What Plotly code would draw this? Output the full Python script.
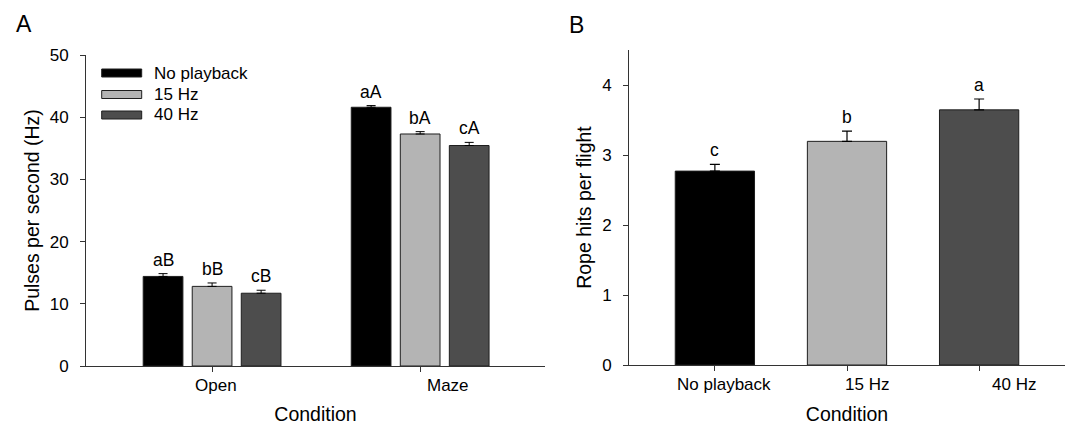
import plotly.graph_objects as go

# ---------------- data ----------------
conditions_a = ["Open", "Maze"]
series_names = ["No playback", "15 Hz", "40 Hz"]
pulses_mean = {
    "No playback": [14.4, 41.6],
    "15 Hz": [12.8, 37.3],
    "40 Hz": [11.7, 35.45],
}
pulses_err = {
    "No playback": [0.45, 0.27],
    "15 Hz": [0.55, 0.38],
    "40 Hz": [0.48, 0.5],
}
pulses_letters = {
    "No playback": ["aB", "aA"],
    "15 Hz": ["bB", "bA"],
    "40 Hz": ["cB", "cA"],
}

conditions_b = ["No playback", "15 Hz", "40 Hz"]
rope_mean = [2.77, 3.195, 3.645]
rope_err = [0.095, 0.145, 0.155]
rope_letters = ["c", "b", "a"]

y_ticks_a = [0, 10, 20, 30, 40, 50]
y_ticks_b = [0, 1, 2, 3, 4]

# ---------------- style ----------------
W, H = 1070, 425
FONT = "Liberation Sans, Arial, sans-serif"
colors = {"No playback": "#000000", "15 Hz": "#b4b4b4", "40 Hz": "#4d4d4d"}
outline = "#1e1e1e"
axis_col = "#333333"
BARGAP = 0.293
BARGROUPGAP = 0.19


def px_x(p):
    return p / W


def px_y(p):
    return 1 - p / H


fig = go.Figure()

# ---------- panel A ----------
xa = list(range(len(conditions_a)))
for name in series_names:
    fig.add_trace(go.Bar(
        x=xa, y=pulses_mean[name], name=name,
        marker=dict(color=colors[name], line=dict(color=outline, width=1)),
        error_y=dict(type="data", symmetric=False, array=pulses_err[name],
                     arrayminus=[0] * len(xa), color="#000000", thickness=1, width=4.5),
        xaxis="x", yaxis="y", showlegend=False,
    ))

slot = (1 - BARGAP) / len(series_names)
annotations = []
for j, name in enumerate(series_names):
    for i in xa:
        annotations.append(dict(
            x=i + (j - (len(series_names) - 1) / 2) * slot,
            y=pulses_mean[name][i] + pulses_err[name][i],
            xref="x", yref="y", text=pulses_letters[name][i], showarrow=False,
            yanchor="bottom", yshift=2, font=dict(size=17.5, color="#000", family=FONT)))

# category labels A (slightly offset as in original)
shifts_a = [4, 28]
for i, lab in enumerate(conditions_a):
    annotations.append(dict(x=i, y=px_y(366), xref="x", yref="paper", text=lab,
                            showarrow=False, yanchor="top", yshift=-8, xshift=shifts_a[i],
                            font=dict(size=17, color="#000", family=FONT)))

# ---------- panel B ----------
xb = list(range(len(conditions_b)))
fig.add_trace(go.Bar(
    x=xb, y=rope_mean, width=0.6,
    marker=dict(color=[colors[c] for c in conditions_b], line=dict(color=outline, width=1)),
    error_y=dict(type="data", symmetric=False, array=rope_err,
                 arrayminus=[0] * len(xb), color="#000000", thickness=1.2, width=5),
    xaxis="x2", yaxis="y2", showlegend=False,
))
for i in xb:
    annotations.append(dict(x=i, y=rope_mean[i] + rope_err[i], xref="x2", yref="y2",
                            text=rope_letters[i], showarrow=False, yanchor="bottom", yshift=2,
                            font=dict(size=17.5, color="#000", family=FONT)))
shifts_b = [9, 20, 35]
for i, lab in enumerate(conditions_b):
    annotations.append(dict(x=i, y=px_y(365), xref="x2", yref="paper", text=lab,
                            showarrow=False, yanchor="top", yshift=-8, xshift=shifts_b[i],
                            font=dict(size=17, color="#000", family=FONT)))

# ---------- manual legend (panel A) ----------
shapes = []
leg_rows = [73, 94.5, 115]
for name, yc in zip(series_names, leg_rows):
    shapes.append(dict(type="rect", xref="paper", yref="paper",
                       x0=px_x(101.7), x1=px_x(141.7), y0=px_y(yc + 4), y1=px_y(yc - 4),
                       fillcolor=colors[name], line=dict(color=outline, width=1)))
    annotations.append(dict(x=px_x(151.5), y=px_y(yc), xref="paper", yref="paper",
                            text=name, showarrow=False, xanchor="left", yanchor="middle",
                            font=dict(size=17, color="#000", family=FONT)))

# panel letters
annotations.append(dict(x=px_x(24), y=px_y(24), xref="paper", yref="paper", text="A",
                        showarrow=False, xanchor="center", yanchor="middle",
                        font=dict(size=23, color="#000", family=FONT)))
annotations.append(dict(x=px_x(576), y=px_y(25), xref="paper", yref="paper", text="B",
                        showarrow=False, xanchor="center", yanchor="middle",
                        font=dict(size=23, color="#000", family=FONT)))

axis_common = dict(showline=True, linecolor=axis_col, linewidth=1, ticks="outside",
                   ticklen=5, tickcolor=axis_col, showgrid=False, zeroline=False,
                   automargin=False,
                   tickfont=dict(size=17, color="#000", family=FONT))

fig.update_layout(
    width=W, height=H, margin=dict(l=0, r=0, t=0, b=0, pad=0),
    paper_bgcolor="white", plot_bgcolor="white",
    barmode="group", bargap=BARGAP, bargroupgap=BARGROUPGAP,
    font=dict(family=FONT, color="#000"),
    xaxis=dict(domain=[px_x(86), px_x(545)], range=[-0.606, 1.60], tickvals=xa,
               showticklabels=False, anchor="y",
               title=dict(text="Condition", font=dict(size=19.5, family=FONT), standoff=37),
               **axis_common),
    yaxis=dict(domain=[px_y(366), px_y(55)], range=[0, 50], tickvals=y_ticks_a, anchor="x",
               ticklabelstandoff=8,
               title=dict(text="Pulses per second (Hz)", font=dict(size=19.5, family=FONT),
                          standoff=4),
               **axis_common),
    xaxis2=dict(domain=[px_x(629), px_x(1065)], range=[-0.65, 2.65], tickvals=xb,
                showticklabels=False, anchor="y2",
                title=dict(text="Condition", font=dict(size=19.5, family=FONT), standoff=37),
                **axis_common),
    yaxis2=dict(domain=[px_y(365), px_y(50)], range=[0, 4.5], tickvals=y_ticks_b, anchor="x2",
                ticklabelstandoff=8,
                title=dict(text="Rope hits per flight", font=dict(size=19.5, family=FONT),
                           standoff=5),
                **axis_common),
    annotations=annotations,
    shapes=shapes,
)

fig.write_html("out.html", config={"displayModeBar": False},
               post_script="document.body.style.margin='0';")
